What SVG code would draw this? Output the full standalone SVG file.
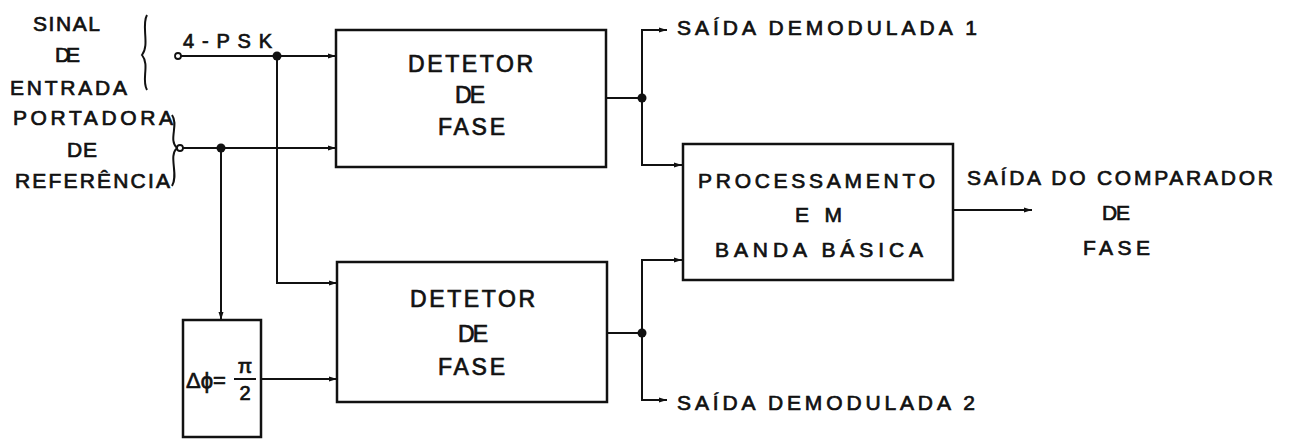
<svg xmlns="http://www.w3.org/2000/svg" width="1290" height="441" viewBox="0 0 1290 441">
<defs>
<style>
.box{fill:#fff;stroke:#111;stroke-width:2.5}
.ln{fill:none;stroke:#111;stroke-width:2}
.ar{fill:none;stroke:#111;stroke-width:2;marker-end:url(#ah)}
.dot{fill:#111}
.oc{fill:#fff;stroke:#111;stroke-width:1.8}
text{font-family:"Liberation Sans",Arial,sans-serif;fill:#111;stroke:#111;stroke-width:0.7;font-size:21px}
.big{font-size:23px}
</style>
<marker id="ah" markerWidth="10" markerHeight="8" refX="8" refY="4" orient="auto" markerUnits="userSpaceOnUse">
<path d="M0,1.5 L8,4 L0,6.5 Z" fill="#111"/>
</marker>
</defs>
<rect width="1290" height="441" fill="#fff"/>

<g id="labels-left">
<text x="33" y="31" textLength="67" lengthAdjust="spacing">SINAL</text>
<text x="55" y="62" textLength="25" lengthAdjust="spacing">DE</text>
<text x="10" y="95" textLength="117" lengthAdjust="spacing">ENTRADA</text>
<path class="ln" d="M147,15 C141,25 150,45 142,55 C150,65 141,80 147,90" stroke-width="1.8"/>
<text x="13" y="125" textLength="160" lengthAdjust="spacing">PORTADORA</text>
<text x="67" y="157" textLength="30" lengthAdjust="spacing">DE</text>
<text x="15" y="188" textLength="155" lengthAdjust="spacing">REFERÊNCIA</text>
<path class="ln" d="M172,115 C179,125 168,140 177,148 C168,156 179,175 172,186" stroke-width="1.8"/>
<text x="183" y="48" textLength="89" lengthAdjust="spacing" style="font-size:20px">4-PSK</text>
</g>

<g id="connectors">
<line class="ar" x1="181" y1="56" x2="336" y2="56"/>
<line class="ar" x1="183" y1="148" x2="336" y2="148"/>
<polyline class="ar" points="277,56 277,283 337,283"/>
<line class="ar" x1="221" y1="148" x2="221" y2="320"/>
<line class="ar" x1="261" y1="379" x2="337" y2="379"/>
<line class="ln" x1="606" y1="98" x2="642" y2="98"/>
<polyline class="ar" points="642,98 642,30 667,30"/>
<polyline class="ar" points="642,98 642,165 682,165"/>
<line class="ln" x1="607" y1="333" x2="642" y2="333"/>
<polyline class="ar" points="642,333 642,260 682,260"/>
<polyline class="ar" points="642,333 642,400 667,400"/>
<line class="ar" x1="953" y1="210" x2="1032" y2="210"/>
<circle class="oc" cx="178" cy="56" r="3"/>
<circle class="oc" cx="180" cy="148" r="3"/>
<circle class="dot" cx="277" cy="56" r="4.5"/>
<circle class="dot" cx="221" cy="148" r="4.5"/>
<circle class="dot" cx="642" cy="98" r="4.5"/>
<circle class="dot" cx="642" cy="333" r="4.5"/>
</g>

<g id="detector1">
<rect class="box" x="336" y="30" width="270" height="137"/>
<text class="big" x="408" y="72" textLength="125" lengthAdjust="spacing">DETETOR</text>
<text class="big" x="455" y="103" textLength="30" lengthAdjust="spacing">DE</text>
<text class="big" x="438" y="135" textLength="67" lengthAdjust="spacing">FASE</text>
</g>

<g id="detector2">
<rect class="box" x="337" y="262" width="270" height="140"/>
<text class="big" x="410" y="307" textLength="125" lengthAdjust="spacing">DETETOR</text>
<text class="big" x="458" y="342" textLength="30" lengthAdjust="spacing">DE</text>
<text class="big" x="438" y="375" textLength="67" lengthAdjust="spacing">FASE</text>
</g>

<g id="phase-shifter">
<rect class="box" x="183" y="320" width="78" height="117"/>
<text x="186" y="388" style="font-size:22px">Δϕ=</text>
<line class="ln" x1="234" y1="379" x2="256" y2="379" stroke-width="2.5"/>
<text x="245" y="373" text-anchor="middle" style="font-size:21px">π</text>
<text x="245" y="400" text-anchor="middle" style="font-size:20px">2</text>
</g>

<g id="processing">
<rect class="box" x="683" y="144" width="270" height="136"/>
<text x="698" y="188" textLength="237" lengthAdjust="spacing">PROCESSAMENTO</text>
<text x="795" y="222" textLength="47" lengthAdjust="spacing">EM</text>
<text x="715" y="257" textLength="208" lengthAdjust="spacing">BANDA BÁSICA</text>
</g>

<g id="outputs">
<text x="677" y="35" textLength="300" lengthAdjust="spacing">SAÍDA DEMODULADA 1</text>
<text x="677" y="410" textLength="298" lengthAdjust="spacing">SAÍDA DEMODULADA 2</text>
<text x="967" y="185" textLength="306" lengthAdjust="spacing">SAÍDA DO COMPARADOR</text>
<text x="1102" y="220" textLength="28" lengthAdjust="spacing">DE</text>
<text x="1083" y="255" textLength="67" lengthAdjust="spacing">FASE</text>
</g>
</svg>
